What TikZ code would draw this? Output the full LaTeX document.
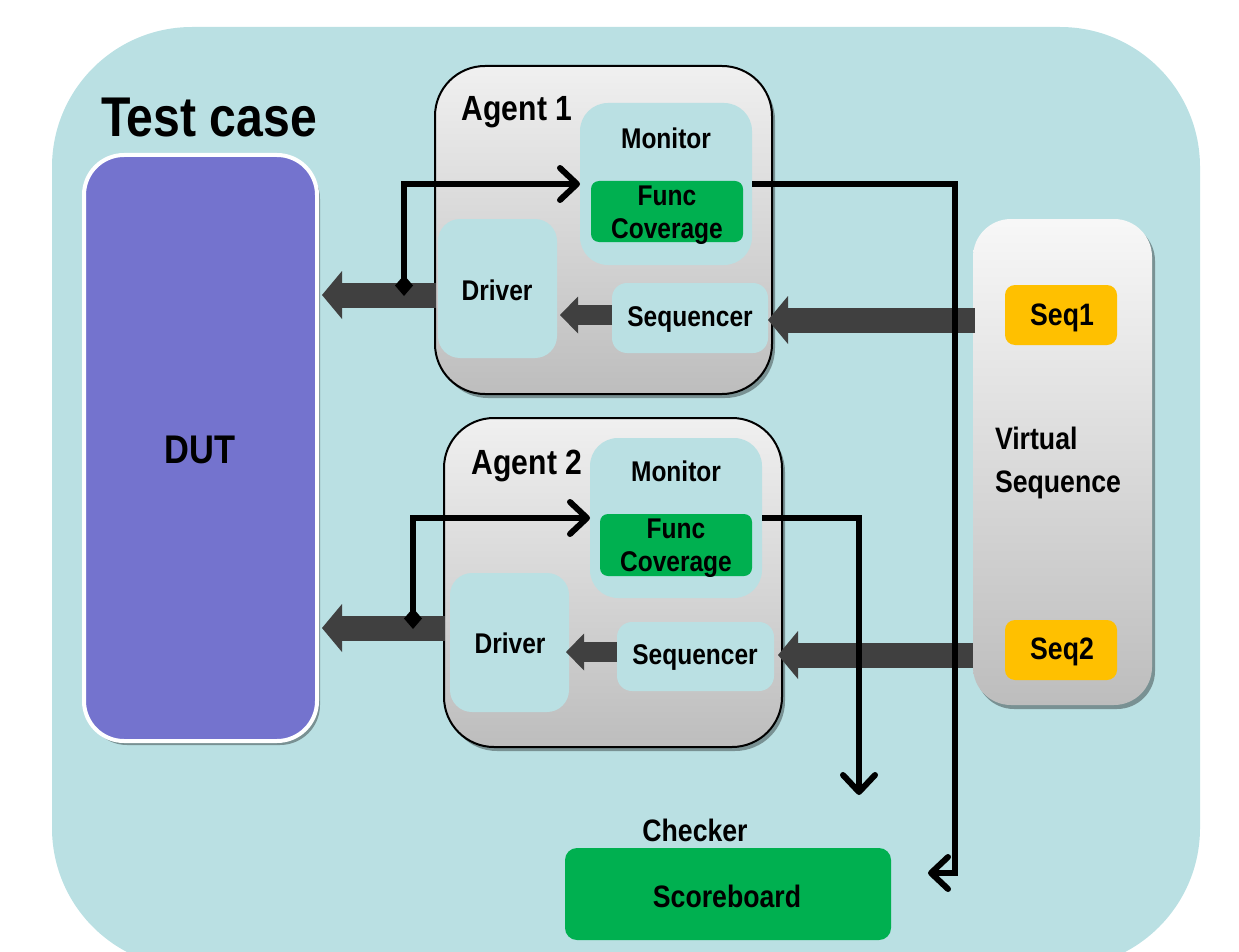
\documentclass[tikz,border=0pt]{standalone}
\usepackage{fontspec}
\setmainfont{Liberation Sans}[FakeStretch=0.86]
\usetikzlibrary{arrows.meta,shadows}

\definecolor{bgcyan}{HTML}{BAE0E3}
\definecolor{boxcyan}{HTML}{BAE0E3}
\definecolor{dutblue}{HTML}{7473CE}
\definecolor{covgreen}{HTML}{00B050}
\definecolor{seqgold}{HTML}{FFC000}
\definecolor{flowgray}{HTML}{404040}
\definecolor{agenttop}{HTML}{F0F0F0}
\definecolor{agentbot}{HTML}{BDBDBD}

\tikzset{
  every node/.style={inner sep=0pt, outer sep=0pt, font=\bfseries},
  softshadow/.style={drop shadow={shadow xshift=3pt, shadow yshift=-4pt, opacity=0.35, fill=black}},
  agentbox/.style={draw=black, line width=2pt, rounded corners=50pt,
    top color=agenttop, bottom color=agentbot, softshadow},
  innerbox/.style={fill=boxcyan, rounded corners=#1},
  covbox/.style={fill=covgreen, rounded corners=8pt},
  seqbox/.style={fill=seqgold, rounded corners=10pt},
  lbl/.style={font=\bfseries\fontsize{28.5}{33}\selectfont, align=center},
  biglbl/.style={font=\bfseries\fontsize{31}{43}\selectfont},
  wideflow/.style={draw=flowgray, line width=25pt,
    -{Triangle[length=20pt, width=48pt, line width=0pt]}},
  narrowflow/.style={draw=flowgray, line width=20pt,
    -{Triangle[length=18pt, width=37pt, line width=0pt]}},
  monline/.style={draw=black, line width=6pt,
    -{Straight Barb[length=17pt, width=32pt, round]}},
  tapline/.style={monline,
    {Diamond[length=21pt, width=18pt, line width=0pt]}-{Straight Barb[length=17pt, width=32pt, round]}},
}

\begin{document}
\begin{tikzpicture}[x=1pt, y=-1pt]
\useasboundingbox (0,0) rectangle (1239,952);
\clip (0,0) rectangle (1239,952);

% test case background
\fill[bgcyan, rounded corners=140pt] (52,27) rectangle (1200,968);
\node[font=\bfseries\fontsize{56}{60}\selectfont] (tc) at (209,118) {Test case};

% DUT
\node[fill=dutblue, draw=white, line width=4pt, rounded corners=40pt, softshadow,
      minimum width=233pt, minimum height=586pt] (dut) at (200.5,448) {};
\node[font=\bfseries\fontsize{40}{44}\selectfont] (dutlbl) at (200,450) {DUT};

% Agent 1
\node[agentbox, minimum width=337pt, minimum height=328pt] (ag1) at (603.5,230) {};
\node[font=\bfseries\fontsize{35}{40}\selectfont] (ag1lbl) at (517,112) {Agent 1};
\node[innerbox=28pt, minimum width=172pt, minimum height=162pt] (mon1) at (666,184) {};
\node[lbl] (mon1lbl) at (666,138) {Monitor};
\node[covbox, minimum width=152pt, minimum height=61pt] (fc1) at (667,211.5) {};
\node[lbl] (fc1lbl) at (667,215) {Func\\Coverage};
\node[innerbox=22pt, minimum width=119pt, minimum height=139pt] (drv1) at (497.5,288.5) {};
\node[lbl] (drv1lbl) at (497,290) {Driver};
\node[innerbox=15pt, minimum width=156pt, minimum height=70pt] (sqr1) at (690,318) {};
\node[lbl] (sqr1lbl) at (690,320) {Sequencer};

% Agent 2
\node[agentbox, minimum width=338pt, minimum height=329pt] (ag2) at (613,582.5) {};
\node[font=\bfseries\fontsize{35}{40}\selectfont] (ag2lbl) at (527,466) {Agent 2};
\node[innerbox=28pt, minimum width=172pt, minimum height=160pt] (mon2) at (676,518) {};
\node[lbl] (mon2lbl) at (676,471) {Monitor};
\node[covbox, minimum width=152pt, minimum height=62pt] (fc2) at (676,545) {};
\node[lbl] (fc2lbl) at (676,548) {Func\\Coverage};
\node[innerbox=22pt, minimum width=119pt, minimum height=139pt] (drv2) at (509.5,642.5) {};
\node[lbl] (drv2lbl) at (510,643) {Driver};
\node[innerbox=15pt, minimum width=157pt, minimum height=69pt] (sqr2) at (695.5,656.5) {};
\node[lbl] (sqr2lbl) at (695,658) {Sequencer};

% Virtual sequence
\node[top color=white!97!black, bottom color=agentbot, rounded corners=38pt, softshadow,
      minimum width=179pt, minimum height=486pt] (vs) at (1062.5,462) {};
\node[biglbl, align=left, anchor=west] (vslbl) at (995,463) {Virtual\\Sequence};
\node[seqbox, minimum width=112pt, minimum height=60pt] (seq1) at (1061,315) {};
\node[biglbl] (seq1lbl) at (1062,318) {Seq1};
\node[seqbox, minimum width=112pt, minimum height=60pt] (seq2) at (1061,650) {};
\node[biglbl] (seq2lbl) at (1062,652) {Seq2};

% Checker
\node[biglbl] (chk) at (695,830) {Checker};
\node[fill=covgreen, rounded corners=12pt, minimum width=326pt, minimum height=92pt] (sb) at (728,894) {};
\node[biglbl] (sblbl) at (727,896) {Scoreboard};

% connector end points
\coordinate (a1out) at (436,295);
\coordinate (dutin1) at (322,295);
\coordinate (s1out) at (612,315);
\coordinate (d1in) at (560,315);
\coordinate (v1out) at (975,320);
\coordinate (q1in) at (768,320);
\coordinate (a2out) at (445,628);
\coordinate (dutin2) at (322,628);
\coordinate (s2out) at (617,652);
\coordinate (d2in) at (566,652);
\coordinate (v2out) at (973,655);
\coordinate (q2in) at (778,655);
\coordinate (tap1) at (404,296);
\coordinate (tap2) at (413,629);
\coordinate (turn1) at (955,873);
\coordinate (sbin) at (928,873);
\coordinate (sbtop) at (859,795);

% stimulus flow
\draw[wideflow] (a1out) -- (dutin1);
\draw[narrowflow] (s1out) -- (d1in);
\draw[wideflow] (v1out) -- (q1in);
\draw[wideflow] (a2out) -- (dutin2);
\draw[narrowflow] (s2out) -- (d2in);
\draw[wideflow] (v2out) -- (q2in);

% monitored signals
\draw[tapline] (tap1) |- (mon1.west);
\draw[tapline] (tap2) |- (mon2.west);
\draw[monline] (mon1.east) -| (turn1) -- (sbin);
\draw[monline] (mon2.east) -| (sbtop);
\end{tikzpicture}
\end{document}
